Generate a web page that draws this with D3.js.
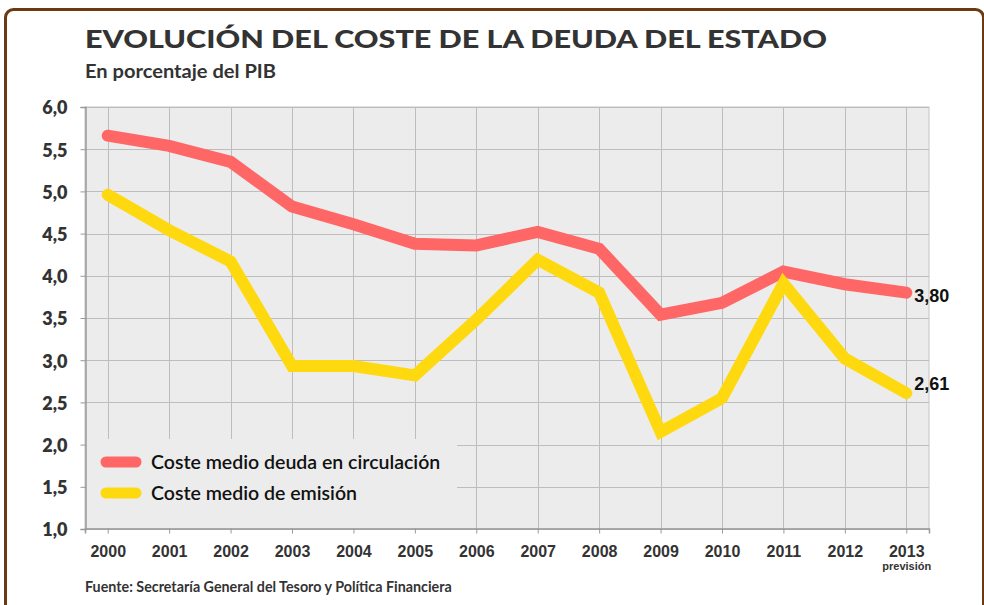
<!DOCTYPE html>
<html>
<head>
<meta charset="utf-8">
<script src="https://cdn.jsdelivr.net/npm/d3@7"></script>
<style>
  html, body { margin: 0; padding: 0; background: #fff; }
  svg { display: block; }
</style>
</head>
<body>
<svg id="chart" width="984" height="605" font-family="Lato, 'Open Sans', sans-serif"></svg>
<script>
// ---- data ----
const years = [2000, 2001, 2002, 2003, 2004, 2005, 2006, 2007, 2008, 2009, 2010, 2011, 2012, 2013];
const yearLabels = ["2000", "2001", "2002", "2003", "2004", "2005", "2006", "2007", "2008", "2009", "2010", "2011", "2012", "2013"];
const yearSubLabels = ["", "", "", "", "", "", "", "", "", "", "", "", "", "previsión"];
const costeCirculacion = [5.66, 5.54, 5.35, 4.82, 4.61, 4.38, 4.36, 4.52, 4.32, 3.54, 3.68, 4.05, 3.90, 3.80];
const costeEmision = [4.96, 4.54, 4.17, 2.93, 2.93, 2.82, 3.48, 4.19, 3.80, 2.15, 2.55, 3.91, 3.02, 2.61];
const seriesNames = ["Coste medio deuda en circulación", "Coste medio de emisión"];
const endLabels = ["3,80", "2,61"];
const yTicks = [1.0, 1.5, 2.0, 2.5, 3.0, 3.5, 4.0, 4.5, 5.0, 5.5, 6.0];
const titleText = "EVOLUCIÓN DEL COSTE DE LA DEUDA DEL ESTADO";
const subtitleText = "En porcentaje del PIB";
const sourceText = "Fuente: Secretaría General del Tesoro y Política Financiera";

// ---- layout ----
const svg = d3.select("#chart");
const plot = { left: 85, right: 929, top: 107, bottom: 529 };
const colors = ["#ff6666", "#ffd90f"];
const narrow = "'Liberation Sans Narrow', 'Arial Narrow', sans-serif";
const arial = "'Liberation Sans', Arial, sans-serif";

// frame
svg.append("rect")
  .attr("x", 5.5).attr("y", 9.5).attr("width", 978).attr("height", 640)
  .attr("rx", 8).attr("fill", "#fff")
  .attr("stroke", "#6b3a10").attr("stroke-width", 3);

// titles
svg.append("text").attr("x", 85).attr("y", 48)
  .attr("font-size", 25).attr("font-weight", 900).attr("fill", "#333")
  .attr("textLength", 742).attr("lengthAdjust", "spacingAndGlyphs")
  .text(titleText);
svg.append("text").attr("x", 85).attr("y", 78)
  .attr("font-size", 19.5).attr("font-weight", 700).attr("fill", "#333")
  .attr("textLength", 191).attr("lengthAdjust", "spacingAndGlyphs")
  .text(subtitleText);

// scales
const x = d3.scalePoint().domain(years).range([plot.left, plot.right]).padding(0.37);
const y = d3.scaleLinear().domain([1, 6]).range([plot.bottom, plot.top]);
const loc = d3.formatLocale({ decimal: ",", thousands: ".", grouping: [3], currency: ["", "€"] });
const fmt = loc.format(".1f");

// plot background
svg.append("rect")
  .attr("x", plot.left).attr("y", plot.top)
  .attr("width", plot.right - plot.left).attr("height", plot.bottom - plot.top)
  .attr("fill", "#ececec").attr("stroke", "#c4c4c4").attr("stroke-width", 1);

// gridlines
const grid = svg.append("g");
grid.selectAll("line.h").data(yTicks).join("line")
  .attr("x1", plot.left).attr("x2", plot.right)
  .attr("y1", d => Math.round(y(d)) + 0.5).attr("y2", d => Math.round(y(d)) + 0.5)
  .attr("stroke", "#bdbdbd").attr("stroke-width", 1);
grid.selectAll("line.v").data(years).join("line")
  .attr("y1", plot.top).attr("y2", plot.bottom)
  .attr("x1", d => Math.round(x(d)) + 0.5).attr("x2", d => Math.round(x(d)) + 0.5)
  .attr("stroke", "#bdbdbd").attr("stroke-width", 1);

// legend box (covers grid)
svg.append("rect")
  .attr("x", plot.left + 1).attr("y", 439)
  .attr("width", 457 - plot.left - 1).attr("height", plot.bottom - 439 - 1)
  .attr("fill", "#ececec");

// axes
const yAxis = svg.append("g")
  .attr("transform", `translate(${plot.left + 0.5},0)`)
  .call(d3.axisLeft(y).tickValues(yTicks).tickSize(5).tickPadding(13).tickFormat(fmt));
yAxis.attr("font-family", null).attr("font-size", null);
yAxis.select(".domain").attr("stroke", "#999").attr("stroke-width", 1.5);
yAxis.selectAll(".tick line").attr("stroke", "#999");
yAxis.selectAll(".tick text")
  .attr("font-family", "Lato, sans-serif").attr("font-size", 18).attr("font-weight", 800)
  .attr("fill", "#333").attr("dy", "0.38em");

const xAxis = svg.append("g")
  .attr("transform", `translate(0,${plot.bottom - 0.5})`)
  .call(d3.axisBottom(x).tickSize(5).tickFormat((d, i) => yearLabels[i]).tickPadding(12));
xAxis.select(".domain").attr("stroke", "#999").attr("stroke-width", 1.5);
xAxis.selectAll(".tick line").attr("stroke", "#999");
xAxis.selectAll(".tick text")
  .attr("font-family", narrow)
  .attr("font-size", 16).attr("font-weight", 700).attr("fill", "#333");
xAxis.selectAll(".tick").append("text")
  .attr("y", 41)
  .attr("font-family", narrow)
  .attr("font-size", 11).attr("font-weight", 700).attr("fill", "#333")
  .attr("text-anchor", "middle")
  .text((d, i) => yearSubLabels[i]);

// lines
const series = [costeCirculacion, costeEmision];
const line = d3.line().x((d, i) => x(years[i])).y(d => y(d));
svg.append("g").selectAll("path").data(series).join("path")
  .attr("d", d => line(d))
  .attr("fill", "none")
  .attr("stroke", (d, i) => colors[i])
  .attr("stroke-width", 12)
  .attr("stroke-linecap", "round")
  .attr("stroke-linejoin", "miter");

// end labels
const endDy = [9.5, -3];
svg.append("g").selectAll("text").data(series).join("text")
  .attr("x", x(years[years.length - 1]) + 8)
  .attr("y", (d, i) => y(d[d.length - 1]) + endDy[i])
  .attr("font-family", arial)
  .attr("font-size", 18).attr("font-weight", 700).attr("fill", "#111")
  .text((d, i) => endLabels[i]);

// legend
const legendY = [462, 493];
const lg = svg.append("g");
lg.selectAll("line").data(seriesNames).join("line")
  .attr("x1", 106).attr("x2", 136)
  .attr("y1", (d, i) => legendY[i]).attr("y2", (d, i) => legendY[i])
  .attr("stroke", (d, i) => colors[i]).attr("stroke-width", 11).attr("stroke-linecap", "round");
lg.selectAll("text").data(seriesNames).join("text")
  .attr("x", 151).attr("y", (d, i) => legendY[i] + 6.5)
  .attr("font-size", 19.5).attr("font-weight", 600).attr("fill", "#111")
  .text(d => d);

// source
svg.append("text").attr("x", 85).attr("y", 592)
  .attr("font-size", 14.3).attr("font-weight", 700).attr("fill", "#333")
  .text(sourceText);
</script>
</body>
</html>
